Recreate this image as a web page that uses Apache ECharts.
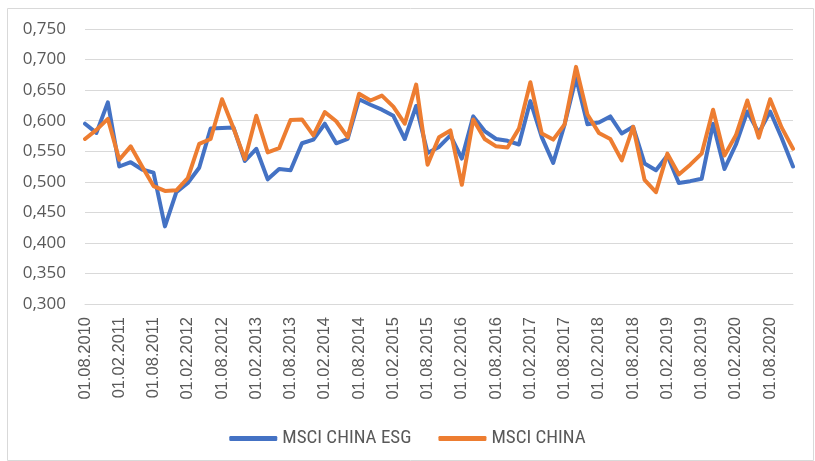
<!DOCTYPE html>
<html>
<head>
<meta charset="utf-8">
<script src="https://cdn.jsdelivr.net/npm/echarts@6/dist/echarts.min.js"></script>
<style>html,body{margin:0;padding:0;background:#fff}#c{width:815px;height:461px}</style>
</head>
<body>
<div id="c"></div>
<script>
var categories = ['01.08.2010','01.10.2010','01.12.2010','01.02.2011','01.04.2011','01.06.2011','01.08.2011','01.10.2011','01.12.2011',
'01.02.2012','01.04.2012','01.06.2012','01.08.2012','01.10.2012','01.12.2012',
'01.02.2013','01.04.2013','01.06.2013','01.08.2013','01.10.2013','01.12.2013',
'01.02.2014','01.04.2014','01.06.2014','01.08.2014','01.10.2014','01.12.2014',
'01.02.2015','01.04.2015','01.06.2015','01.08.2015','01.10.2015','01.12.2015',
'01.02.2016','01.04.2016','01.06.2016','01.08.2016','01.10.2016','01.12.2016',
'01.02.2017','01.04.2017','01.06.2017','01.08.2017','01.10.2017','01.12.2017',
'01.02.2018','01.04.2018','01.06.2018','01.08.2018','01.10.2018','01.12.2018',
'01.02.2019','01.04.2019','01.06.2019','01.08.2019','01.10.2019','01.12.2019',
'01.02.2020','01.04.2020','01.06.2020','01.08.2020','01.10.2020','01.12.2020'];

var msciChinaEsg = [0.595,0.580,0.630,0.525,0.532,0.520,0.515,0.427,0.483,0.498,0.523,0.587,0.588,
0.589,0.534,0.554,0.504,0.521,0.519,0.563,0.569,0.595,0.563,0.570,0.635,
0.626,0.618,0.608,0.570,0.624,0.547,0.557,0.576,0.538,0.607,0.583,0.570,
0.567,0.561,0.632,0.573,0.531,0.594,0.670,0.594,0.597,0.607,0.579,0.590,
0.530,0.519,0.543,0.498,0.501,0.505,0.595,0.521,0.561,0.615,0.580,0.615,0.572,0.525];

var msciChina = [0.570,0.585,0.603,0.536,0.558,0.525,0.493,0.485,0.486,0.506,0.562,0.570,0.635,
0.588,0.537,0.608,0.548,0.555,0.601,0.602,0.576,0.614,0.599,0.573,0.644,
0.633,0.641,0.623,0.595,0.659,0.528,0.573,0.584,0.495,0.602,0.570,0.558,
0.556,0.587,0.663,0.579,0.569,0.594,0.688,0.610,0.580,0.570,0.535,0.590,
0.503,0.483,0.546,0.512,0.528,0.546,0.618,0.543,0.576,0.633,0.572,0.635,0.589,0.554];

var seriesNames = ['MSCI CHINA ESG', 'MSCI CHINA'];

var chart = echarts.init(document.getElementById('c'));
var txt = '#595959';
chart.setOption({
  animation: false,
  graphic: [{
    type: 'rect', left: 5, top: 6, silent: true,
    shape: { x: 0, y: 0, width: 806, height: 452 },
    style: { fill: 'none', stroke: '#d9d9d9', lineWidth: 1 }
  }],
  grid: { left: 85, right: 22, top: 29, bottom: 157, containLabel: false },
  legend: {
    top: 424, left: 'center',
    data: seriesNames,
    icon: 'roundRect', itemWidth: 48, itemHeight: 5, itemGap: 27,
    textStyle: { color: txt, fontSize: 19, fontFamily: '"Liberation Sans Narrow", "Roboto Condensed", sans-serif' }
  },
  xAxis: {
    type: 'category', data: categories, boundaryGap: false,
    axisLine: { show: true, lineStyle: { color: '#d9d9d9' } },
    axisTick: { show: false },
    axisLabel: { interval: 2, rotate: 90, color: txt, fontSize: 16.5, margin: 13, fontFamily: '"Liberation Sans", Arial, sans-serif' },
    splitLine: { show: false }
  },
  yAxis: {
    type: 'value', min: 0.3, max: 0.75, interval: 0.05,
    axisLine: { show: false }, axisTick: { show: false },
    axisLabel: { color: txt, fontSize: 17, margin: 19, fontFamily: '"Open Sans", "Noto Sans", sans-serif',
      formatter: function (v) { return v.toFixed(3).replace('.', ','); } },
    splitLine: { lineStyle: { color: '#d9d9d9', width: 1 } }
  },
  series: [
    { name: seriesNames[0], type: 'line', data: msciChinaEsg, symbol: 'none', smooth: false,
      lineStyle: { color: '#4472C4', width: 4, cap: 'round', join: 'round' }, itemStyle: { color: '#4472C4' } },
    { name: seriesNames[1], type: 'line', data: msciChina, symbol: 'none', smooth: false,
      lineStyle: { color: '#ED7D31', width: 4, cap: 'round', join: 'round' }, itemStyle: { color: '#ED7D31' } }
  ]
});
</script>
</body>
</html>
